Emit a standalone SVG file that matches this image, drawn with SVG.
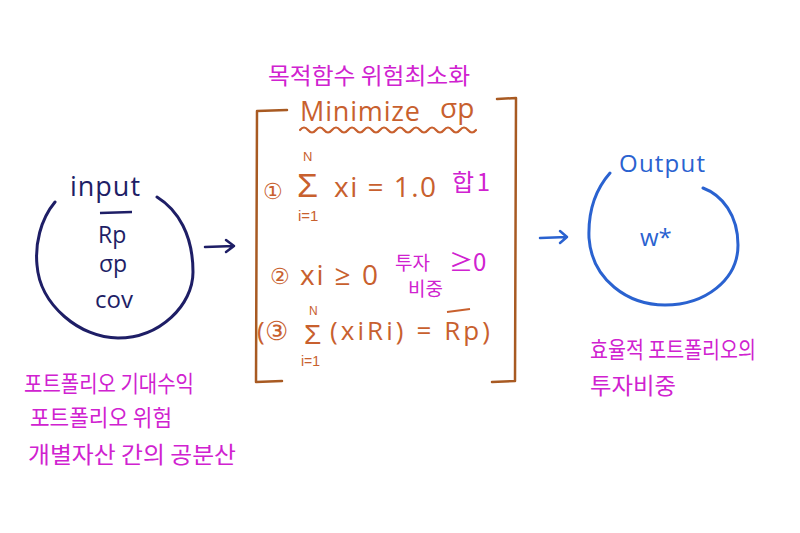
<svg xmlns="http://www.w3.org/2000/svg" width="800" height="533" viewBox="0 0 800 533">
<style>
.nv{fill:#1e1e66;font-family:"Open Sans","Noto Sans",sans-serif}
.or{fill:#c8602e;font-family:"Open Sans","Noto Sans",sans-serif}
.sg{fill:#c8602e;font-family:"Liberation Sans",sans-serif}
.mg{fill:#d022d0;font-family:"Noto Sans CJK KR","Noto Sans",sans-serif}
.bl{fill:#2a62d0;font-family:"Open Sans","Noto Sans",sans-serif}
.ln{fill:none;stroke-linecap:round;stroke-linejoin:round}
</style>
<rect width="800" height="533" fill="#ffffff"/>
<g id="input-node">
<path class="ln" d="M 55 202 C 40 220, 35 245, 37 265 C 40 305, 80 338, 118 338 C 160 338, 193 305, 193 272 C 193 235, 178 210, 157 197" stroke="#1e1e66" stroke-width="3"/>
<text class="nv" x="70" y="196" font-size="27" textLength="70">input</text>
<line x1="100" y1="213" x2="132" y2="212" stroke="#1e1e66" stroke-width="2.5"/>
<text class="nv" x="98" y="243" font-size="23">Rp</text>
<text class="nv" x="99" y="272" font-size="23">σp</text>
<text class="nv" x="95" y="308" font-size="24">cov</text>
</g>
<g id="input-labels">
<text class="mg" x="24" y="392" font-size="23" textLength="170" lengthAdjust="spacingAndGlyphs">포트폴리오 기대수익</text>
<text class="mg" x="30" y="426" font-size="23" textLength="142" lengthAdjust="spacingAndGlyphs">포트폴리오 위험</text>
<text class="mg" x="28" y="463" font-size="23" textLength="208" lengthAdjust="spacingAndGlyphs">개별자산 간의 공분산</text>
</g>
<g id="model-node">
<text class="mg" x="268" y="84" font-size="23" textLength="202" lengthAdjust="spacingAndGlyphs">목적함수 위험최소화</text>
<text class="or" x="300" y="121" font-size="27" textLength="120">Minimize</text>
<text class="or" x="440" y="118" font-size="28">σp</text>
<path class="ln" d="M 300 130 q 4 -5 8 0 t 8 0 t 8 0 t 8 0 t 8 0 t 8 0 t 8 0 t 8 0 t 8 0 t 8 0 t 8 0 t 8 0 t 8 0 t 8 0 t 8 0 t 8 0 t 8 0 t 8 0 t 8 0 t 8 0 t 8 0 t 8 0" stroke="#c8602e" stroke-width="2.2"/>
<path class="ln" d="M 287 110 L 257 111 L 256 382 L 282 381" stroke="#a85a22" stroke-width="2.5"/>
<path class="ln" d="M 497 99 L 516 98 L 515 381 L 492 382" stroke="#a85a22" stroke-width="2.5"/>
<text class="or" x="263" y="199" font-size="22">①</text>
<text class="sg"><tspan x="303" y="161" font-size="13">N</tspan><tspan x="297" y="197" font-size="34">Σ</tspan><tspan x="298" y="221" font-size="15">i=1</tspan></text>
<text class="or" x="334" y="197" font-size="28" textLength="102">xi = 1.0</text>
<text class="mg" x="452" y="191" font-size="24" textLength="38">합 1</text>
<text class="or" x="270" y="284" font-size="22">②</text>
<text class="or" x="300" y="285" font-size="28" textLength="78">xi ≥ 0</text>
<text class="mg" x="395" y="270" font-size="19">투자</text>
<text class="mg" x="408" y="296" font-size="19">비중</text>
<text class="mg" x="449" y="271" font-size="24">≥0</text>
<text class="or" x="257" y="340" font-size="26">(③</text>
<text class="sg"><tspan x="309" y="315" font-size="12">N</tspan><tspan x="304" y="344" font-size="28">Σ</tspan><tspan x="301" y="366" font-size="14">i=1</tspan></text>
<text class="or" x="330" y="340" font-size="26" textLength="160">(xiRi) = Rp)</text>
<line x1="447" y1="312" x2="470" y2="309" stroke="#c8602e" stroke-width="2"/>
</g>
<g id="output-node">
<path class="ln" d="M 610 173 C 595 190, 588 212, 589 238 C 592 280, 628 305, 665 305 C 705 305, 738 280, 738 245 C 738 215, 722 195, 703 188" stroke="#2a62d0" stroke-width="3"/>
<text class="bl" x="619" y="172" font-size="24" textLength="86">Output</text>
<text class="bl" x="640" y="246" font-size="24">w*</text>
</g>
<g id="output-labels">
<text class="mg" x="590" y="358" font-size="23" textLength="166" lengthAdjust="spacingAndGlyphs">효율적 포트폴리오의</text>
<text class="mg" x="590" y="394" font-size="23" textLength="86" lengthAdjust="spacingAndGlyphs">투자비중</text>
</g>
<g id="connectors">
<path class="ln" d="M 205 247 L 234 246 M 226 240 L 234 246 L 226 252" stroke="#1e1e66" stroke-width="2.5"/>
<path class="ln" d="M 540 238 L 567 237 M 560 231 L 567 237 L 560 243" stroke="#2a62d0" stroke-width="2.5"/>
</g>
</svg>
